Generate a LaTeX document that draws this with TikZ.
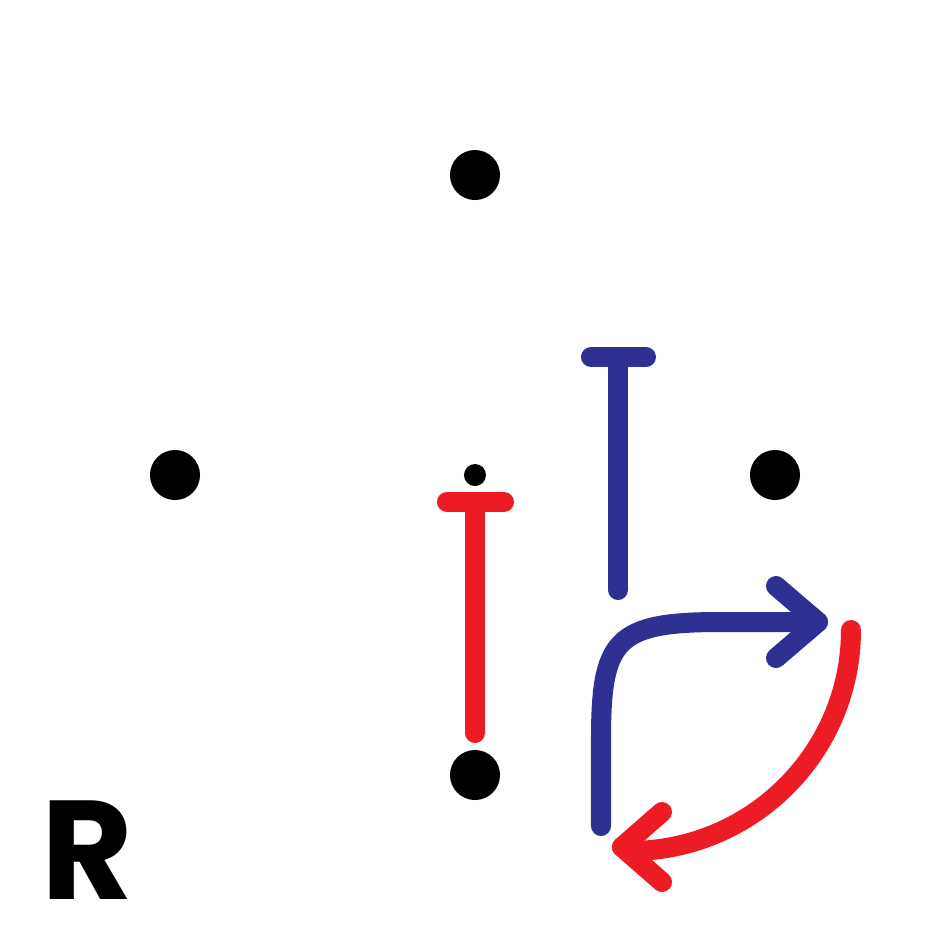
\documentclass[tikz,border=0pt]{standalone}
\usepackage{fontspec}
\newfontfamily\rfont{Poppins}
\definecolor{myblue}{HTML}{2E3192}
\definecolor{myred}{HTML}{ED1C24}
\begin{document}
\begin{tikzpicture}[x=0.01cm,y=-0.01cm,
  dot/.style={circle,fill=black,inner sep=0pt,minimum size=0.5cm},
  smalldot/.style={circle,fill=black,inner sep=0pt,minimum size=0.22cm},
  thick line/.style={line width=0.2cm,line cap=round,line join=round},
  ]
\useasboundingbox[fill=white] (0,0) rectangle (950,950);
\node[dot] (top) at (475,175) {};
\node[dot] (left) at (175,475) {};
\node[dot] (right) at (775,475) {};
\node[dot] (bottom) at (475,775) {};
\node[smalldot] (center) at (475,475) {};
% red T
\draw[thick line,myred] (447,502) -- (504,502);
\draw[thick line,myred] (475,502) -- (475,733);
% blue T
\draw[thick line,myblue] (591,357) -- (646,357);
\draw[thick line,myblue] (618,357) -- (618,590);
% blue arrow
\coordinate (bs) at (601,826);
\coordinate (bt) at (818,622);
\draw[thick line,myblue] (bs) -- (601,740) .. controls (601,640) and (615,622) .. (720,622) -- (bt);
\draw[thick line,myblue] (776,586) -- (bt) -- (776,658);
% red arrow
\coordinate (rs) at (851,630);
\coordinate (rt) at (622,847);
\draw[thick line,myred] (rs) arc[start angle=0,end angle=90,radius=221] -- (rt);
\draw[thick line,myred] (662,812) -- (rt) -- (662,882);
% R
\node[font=\rfont\bfseries\fontsize{40}{40}\selectfont,inner sep=0pt] (R) at (87,850) {R};
\end{tikzpicture}
\end{document}
